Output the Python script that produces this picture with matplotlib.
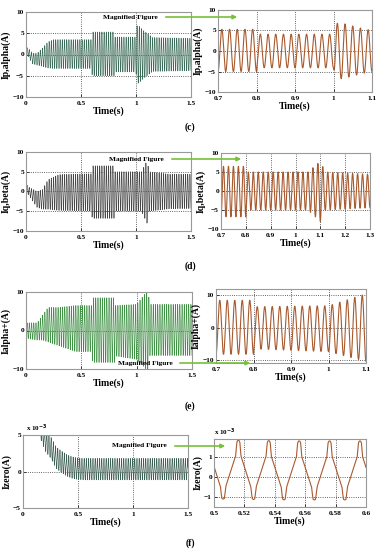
import numpy as np
import matplotlib
matplotlib.use("Agg")
import matplotlib.pyplot as plt

plt.rcParams['font.family'] = ['Liberation Serif', 'DejaVu Serif']
plt.rcParams['font.weight'] = 'bold'

W, H = 379, 550
F = 50.0  # grid frequency, Hz

# ---- envelopes (time, upper, lower) ----
c_t = [0, 0.03, 0.06, 0.1, 0.15, 0.2, 0.25, 0.6, 0.601, 0.8, 0.801, 1.0, 1.004, 1.03, 1.07, 1.1, 1.15, 1.5]
c_up = [1.8, 1.2, 0.3, 0.3, 1.5, 3.0, 3.5, 3.5, 5.3, 5.3, 4.1, 4.1, 6.8, 6.6, 5.6, 5.0, 4.0, 3.8]
c_lo = [0.5, -1.0, -2.2, -2.5, -2.8, -3.2, -3.3, -3.3, -5.0, -5.0, -4.1, -4.1, -7.0, -6.6, -5.6, -5.0, -4.0, -3.8]

d_t = [0, 0.02, 0.1, 0.15, 0.2, 0.3, 0.6, 0.601, 0.8, 0.801, 1.05, 1.1, 1.12, 1.3, 1.5]
d_up = [2.0, 1.2, 0.0, 0.5, 3.0, 4.3, 4.5, 6.5, 6.5, 5.0, 5.0, 7.8, 5.0, 4.4, 4.4]
d_lo = [0.5, -0.8, -4.0, -4.5, -4.5, -4.8, -5.0, -6.8, -6.8, -5.0, -5.0, -8.0, -5.0, -4.4, -4.3]

e_t = [0, 0.1, 0.15, 0.2, 0.3, 0.45, 0.6, 0.601, 0.8, 0.801, 1.0, 1.1, 1.12, 1.5]
e_up = [2.0, 2.0, 4.0, 6.0, 6.0, 6.5, 6.5, 8.5, 8.5, 6.5, 6.8, 10.5, 6.8, 6.8]
e_lo = [-2.0, -2.5, -2.5, -3.0, -4.0, -5.5, -5.5, -8.3, -8.3, -6.6, -7.5, -10.5, -6.5, -6.5]

# zero-sequence: one period profile (phase, value) and a decaying offset
f_phase = [-0.5, -0.46, -0.43, -0.41, -0.09, -0.07, -0.05, -0.02, 0.0, 0.02, 0.05, 0.07, 0.09, 0.41, 0.43, 0.46, 0.5]
f_shape = [-1.15, -1.12, -0.8, -0.5, 1.0, 1.3, 1.7, 1.8, 1.8, 1.8, 1.7, 1.3, 1.0, -0.5, -0.8, -1.12, -1.15]
f_off_t = [0, 0.1, 0.2, 0.25, 0.3, 0.35, 0.4, 0.45, 0.5, 0.55, 1.5]
f_off = [15, 8, 4.0, 3.0, 1.6, 1.0, 0.5, 0.2, 0.05, 0.0, 0.0]

t = np.linspace(0, 1.5, 60001)


def wave(tb, up, lo, t0=0.71):
    u = np.interp(t, tb, up)
    l = np.interp(t, tb, lo)
    return (u + l) / 2 + (u - l) / 2 * np.cos(2 * np.pi * F * (t - t0))


sig_c = wave(c_t, c_up, c_lo)
sig_d = wave(d_t, d_up, d_lo)
sig_e = wave(e_t, e_up, e_lo, t0=0.71)
ph = ((t - 0.516) * F + 0.5) % 1.0 - 0.5
sig_f = np.interp(ph, f_phase, f_shape) + np.interp(t, f_off_t, f_off)

fig = plt.figure(figsize=(W / 100, H / 100), dpi=100)


def box(x0, x1, y0, y1):
    return [x0 / W, 1 - y1 / H, (x1 - x0) / W, (y1 - y0) / H]


def style(ax, xlim, ylim, xt, yt, ylabel, xtl=None, ytl=None):
    ax.set_xlim(xlim)
    ax.set_ylim(ylim)
    ax.set_xticks(xt)
    ax.set_yticks(yt)
    if xtl:
        ax.set_xticklabels(xtl)
    if ytl:
        ax.set_yticklabels(ytl)
    ax.grid(True, ls=':', color='#333333', lw=0.6)
    ax.tick_params(labelsize=5.3, length=2, width=0.5, pad=1.5, direction='in')
    ax.tick_params(axis='x', pad=3)
    for s in ax.spines.values():
        s.set_color('#999999')
        s.set_linewidth(0.8)
    ax.set_xlabel('Time(s)', fontsize=7, fontweight='bold', labelpad=0.3)
    ax.set_ylabel(ylabel, fontsize=7, fontweight='bold', labelpad=1)


left_x = [0, 0.5, 1, 1.5]
left_xl = ['0', '0.5', '1', '1.5']
brown = '#a85a2e'

# (c)
ax = fig.add_axes(box(26, 191, 12, 97))
ax.plot(t, sig_c, color='#3b6b58', lw=0.45)
style(ax, (0, 1.5), (-10, 10), left_x, [-10, -5, 0, 5, 10], 'Ip,alpha(A)', left_xl)
ax = fig.add_axes(box(218, 372, 10, 92))
ax.plot(t, sig_c, color=brown, lw=0.8)
style(ax, (0.7, 1.1), (-10, 10), [0.7, 0.8, 0.9, 1.0, 1.1], [-10, -5, 0, 5, 10], 'Ip,alpha(A)',
      ['0.7', '0.8', '0.9', '1', '1.1'])

# (d)
ax = fig.add_axes(box(26, 191, 152, 231))
ax.plot(t, sig_d, color='#454545', lw=0.45)
style(ax, (0, 1.5), (-10, 10), left_x, [-10, -5, 0, 5, 10], 'Iq,beta(A)', left_xl)
ax = fig.add_axes(box(221, 370, 153, 229))
ax.plot(t, sig_d, color=brown, lw=0.8)
style(ax, (0.7, 1.3), (-10, 10), [0.7, 0.8, 0.9, 1.0, 1.1, 1.2, 1.3], [-10, -5, 0, 5, 10], 'Iq,beta(A)',
      ['0.7', '0.8', '0.9', '1', '1.1', '1.2', '1.3'])

# (e)
ax = fig.add_axes(box(26, 192, 292, 369))
ax.plot(t, sig_e, color='#3f8f45', lw=0.45)
style(ax, (0, 1.5), (-10, 10), left_x, [-10, 0, 10], 'Ialpha+(A)', left_xl)
ax = fig.add_axes(box(216, 366, 289, 363))
ax.plot(t, sig_e, color=brown, lw=0.8)
style(ax, (0.7, 1.1), (-11, 12), [0.7, 0.8, 0.9, 1.0, 1.1], [-10, 0, 10], 'Ialpha+(A)',
      ['0.7', '0.8', '0.9', '1', '1.1'])

# (f)
ax = fig.add_axes(box(23, 188, 435, 508))
ax.plot(t, sig_f, color='#3b5f52', lw=0.45)
style(ax, (0, 1.5), (-5, 5), left_x, [-5, 0, 5], 'Izero(A)', left_xl)
ax.text(0.02, 1.01, r'x 10$^{-3}$', transform=ax.transAxes, fontsize=5, va='bottom')
ax = fig.add_axes(box(214, 366, 439, 507))
ax.plot(t, sig_f, color=brown, lw=0.8)
style(ax, (0.5, 0.6), (-1.5, 1.9), [0.5, 0.52, 0.54, 0.56, 0.58, 0.6], [-1, 0, 1], 'Izero(A)',
      ['0.5', '0.52', '0.54', '0.56', '0.58', '0.6'])
ax.text(0.0, 1.01, r'x 10$^{-3}$', transform=ax.transAxes, fontsize=5, va='bottom')

# panel tags and "Magnified Figure" arrows
for tag, y in [('(c)', 127), ('(d)', 266), ('(e)', 406), ('(f)', 543)]:
    fig.text(190 / W, 1 - y / H, tag, fontsize=7, ha='center', va='center')

arrows = [(130, 17, 163, 240), (136, 159, 169, 244), (145, 363, 177, 253), (139, 446, 172, 228)]
for tx, ty, x0, x1 in arrows:
    fig.text(tx / W, 1 - ty / H, 'Magnified Figure', fontsize=5.3, ha='center', va='center')
    fig.add_artist(matplotlib.patches.FancyArrowPatch(
        (x0 / W, 1 - ty / H), (x1 / W, 1 - ty / H), transform=fig.transFigure,
        arrowstyle='-|>', mutation_scale=6, color='#78c03a', lw=1.2))

fig.savefig('out.png', dpi=100)
